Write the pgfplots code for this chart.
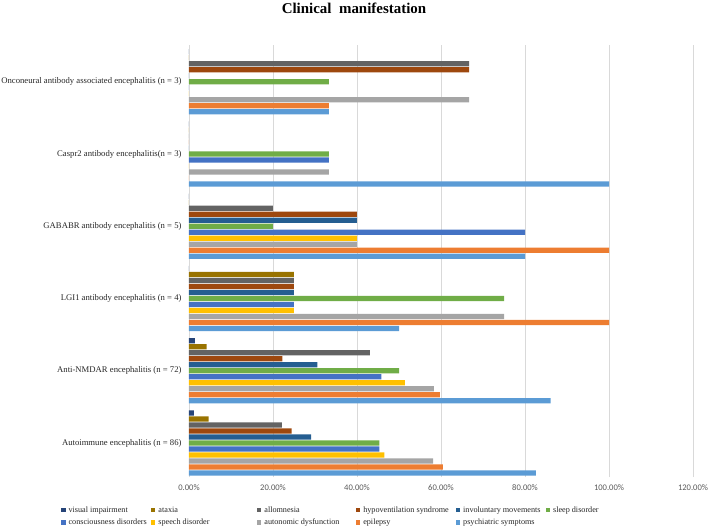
\documentclass[border=0pt]{standalone}
\usepackage{fontspec}
\setmainfont{Liberation Serif}
\newfontfamily\calibri{Carlito}
\usepackage{pgfplots}
\usepackage{pgfplotstable}
\pgfplotsset{compat=1.18}
\definecolor{cPsy}{HTML}{5B9BD5}
\definecolor{cEpi}{HTML}{ED7D31}
\definecolor{cAut}{HTML}{A5A5A5}
\definecolor{cSpe}{HTML}{FFC000}
\definecolor{cCon}{HTML}{4472C4}
\definecolor{cSle}{HTML}{70AD47}
\definecolor{cInv}{HTML}{255E91}
\definecolor{cHyp}{HTML}{9E480E}
\definecolor{cAll}{HTML}{636363}
\definecolor{cAta}{HTML}{997300}
\definecolor{cVis}{HTML}{264478}
\definecolor{gridc}{HTML}{D9D9D9}
\definecolor{tickc}{HTML}{595959}
\pgfplotstableread{
y psy epi aut spe con sle inv hyp all ata vis
0 0.8256 0.6047 0.5814 0.4651 0.4535 0.4535 0.2907 0.2442 0.2209 0.0465 0.0116
1 0.8611 0.5972 0.5833 0.5139 0.4583 0.5000 0.3056 0.2222 0.4306 0.0417 0.0139
2 0.5000 1.0000 0.7500 0.2500 0.2500 0.7500 0.2500 0.2500 0.2500 0.2500 0
3 0.8000 1.0000 0.4000 0.4000 0.8000 0.2000 0.4000 0.4000 0.2000 0 0
4 1.0000 0 0.3333 0 0.3333 0.3333 0 0 0 0 0
5 0.3333 0.3333 0.6667 0 0 0.3333 0 0.6667 0.6667 0 0
}\data
\begin{document}
\begin{tikzpicture}
\useasboundingbox (-189bp,-54bp) rectangle (519bp,477bp);
\begin{axis}[
  at={(0,0)}, anchor=south west,
  scale only axis, width=504bp, height=432bp,
  xbar=0.8bp, bar width=5.2bp,
  xmin=0, xmax=1.2, ymin=-0.47, ymax=5.51,
  xtick={0,0.2,0.4,0.6,0.8,1.0,1.2},
  xticklabels={0.00\%,20.00\%,40.00\%,60.00\%,80.00\%,100.00\%,120.00\%},
  ytick={0,1,2,3,4,5},
  yticklabels={Autoimmune encephalitis (n = 86),Anti-NMDAR encephalitis (n = 72),LGI1 antibody encephalitis (n = 4),GABABR antibody encephalitis (n = 5),Caspr2 antibody encephalitis(n = 3),Onconeural antibody associated encephalitis (n = 3)},
  major tick length=0pt,
  axis line style={draw=none},
  xmajorgrids, major grid style={gridc, line width=0.8bp},
  xticklabel style={font=\calibri\fontsize{8.6}{10}\selectfont, text=tickc, yshift=-4bp},
  yticklabel style={font=\fontsize{8.7}{10}\selectfont, text=black!85, xshift=-4bp},
  reverse legend,
  legend columns=6,
  legend style={draw=none, fill=none, at={(-0.254,-0.067)}, anchor=north west,
    font=\fontsize{8.2}{10}\selectfont, text=black!85, inner sep=0pt, row sep=4bp,
    nodes={inner sep=0.5bp},
    /tikz/every odd column/.append style={column sep=2.5bp}},
  legend image code/.code={\draw[#1,draw=none] (0bp,-2.2bp) rectangle (4.4bp,2.2bp);},
]
\addplot[fill=cPsy, draw=none] table[x=psy, y=y] {\data};
\addplot[fill=cEpi, draw=none] table[x=epi, y=y] {\data};
\addplot[fill=cAut, draw=none] table[x=aut, y=y] {\data};
\addplot[fill=cSpe, draw=none] table[x=spe, y=y] {\data};
\addplot[fill=cCon, draw=none] table[x=con, y=y] {\data};
\addplot[fill=cSle, draw=none] table[x=sle, y=y] {\data};
\addplot[fill=cInv, draw=none] table[x=inv, y=y] {\data};
\addplot[fill=cHyp, draw=none] table[x=hyp, y=y] {\data};
\addplot[fill=cAll, draw=none] table[x=all, y=y] {\data};
\addplot[fill=cAta, draw=none] table[x=ata, y=y] {\data};
\addplot[fill=cVis, draw=none] table[x=vis, y=y] {\data};
\addlegendentry{\makebox[82bp][l]{psychiatric symptoms}}
\addlegendentry{\makebox[92bp][l]{epilepsy}}
\addlegendentry{\makebox[91bp][l]{autonomic dysfunction}}
\addlegendentry{\makebox[98bp][l]{speech disorder}}
\addlegendentry{\makebox[82bp][l]{consciousness disorders}}
\addlegendentry{\makebox[60bp][l]{sleep disorder}}
\addlegendentry{\makebox[82bp][l]{involuntary movements}}
\addlegendentry{\makebox[92bp][l]{hypoventilation syndrome}}
\addlegendentry{\makebox[91bp][l]{allomnesia}}
\addlegendentry{\makebox[98bp][l]{ataxia}}
\addlegendentry{\makebox[82bp][l]{visual impairment}}
\end{axis}
\node[font=\bfseries\fontsize{15}{17}\selectfont] at (165bp,469bp) {Clinical\ \ manifestation};
\end{tikzpicture}
\end{document}
